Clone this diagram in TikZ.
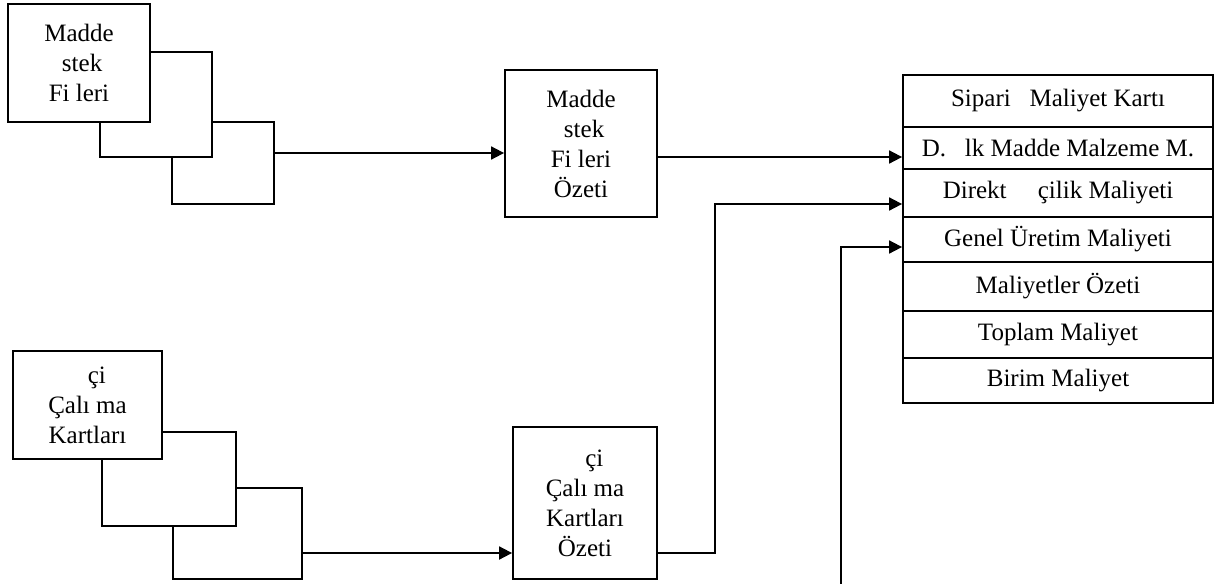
\documentclass[tikz,border=0pt]{standalone}
\usepackage{fontspec}
\setmainfont{Liberation Serif}
\usepackage{tikz}
\usetikzlibrary{arrows.meta,positioning,calc}
\tikzset{
    card/.style={rectangle, draw, fill=white, line width=0.9pt, align=center,
                 inner sep=0pt, font=\fontsize{12.5}{15}\selectfont},
    shade/.style={rectangle, draw, fill=white, line width=0.9pt, inner sep=0pt},
    row/.style={rectangle, draw, line width=0.9pt, minimum width=155pt, inner sep=0pt,
                font=\fontsize{12.5}{15}\selectfont},
    flow/.style={draw, line width=0.9pt, -{Triangle[length=6.5pt,width=6.5pt]}},
}
\begin{document}
\begin{tikzpicture}[x=0.5pt, y=-0.5pt]
        \useasboundingbox (0,0) rectangle (1228,584);

        % Madde istek fisleri (stacked)
        \node [shade, minimum width=51pt, minimum height=41pt]   (mif3) at (223,163) {};
        \node [shade, minimum width=56pt, minimum height=52.5pt] (mif2) at (156,104.5) {};
        \node [card, minimum width=71pt, minimum height=59pt]    (mif1) at (79,63)
              {Madde\\\ stek\\Fi leri};

        % Madde istek fisleri ozeti
        \node [card, minimum width=76pt, minimum height=73.5pt]  (mifoz) at (581,143.5)
              {Madde\\\ stek\\Fi leri\\Özeti};

        % Isci calisma kartlari (stacked)
        \node [shade, minimum width=64.5pt, minimum height=45.5pt] (ick3) at (237.5,533.5) {};
        \node [shade, minimum width=67pt, minimum height=47pt]     (ick2) at (169,479) {};
        \node [card, minimum width=74.5pt, minimum height=54pt]    (ick1) at (87.5,405)
              {\ \ \ çi\\Çalı ma\\Kartları};

        % Isci calisma kartlari ozeti
        \node [card, minimum width=72pt, minimum height=76pt]    (ickoz) at (585,503)
              {\ \ \ çi\\Çalı ma\\Kartları\\Özeti};

        % Siparis maliyet karti
        \node [row, minimum height=26pt]   (kart)  at (1058,101)   {Sipari\ \ \ Maliyet Kartı};
        \node [row, minimum height=21pt]   (dmm)   at (1058,148)   {D.\ \ \ lk Madde Malzeme M.};
        \node [row, minimum height=24pt]   (dim)   at (1058,193)   {Direkt\ \ \ \ \ çilik Maliyeti};
        \node [row, minimum height=22.5pt] (gum)   at (1058,239.5) {Genel Üretim Maliyeti};
        \node [row, minimum height=24.5pt] (moz)   at (1058,286.5) {Maliyetler Özeti};
        \node [row, minimum height=23.5pt] (top)   at (1058,334.5) {Toplam Maliyet};
        \node [row, minimum height=22.5pt] (birim) at (1058,380.5) {Birim Maliyet};

        % Connectors
        \coordinate (mifout) at ([yshift=5pt]mif3.east);
        \coordinate (mifin)  at (mifoz.west |- mifout);
        \coordinate (ozout)  at ([yshift=-6.75pt]mifoz.east);
        \coordinate (ickout) at ([yshift=-9.75pt]ick3.east);
        \coordinate (ickin)  at (ickoz.west |- ickout);
        \coordinate (ickozout) at ([yshift=-25pt]ickoz.east);
        \coordinate (gumin)  at ([yshift=-3.75pt]gum.west);
        \coordinate (gumsrc) at (841,584);

        \draw [flow] (mifout) -- (mifin);
        \draw [flow] (ozout) -- (ozout -| dmm.west);
        \draw [flow] (ickout) -- (ickin);
        \draw [flow] (ickozout) -| (715,204) -- (715,204 -| dim.west);
        \draw [flow] (gumsrc) |- (gumin);
    \end{tikzpicture}
\end{document}
